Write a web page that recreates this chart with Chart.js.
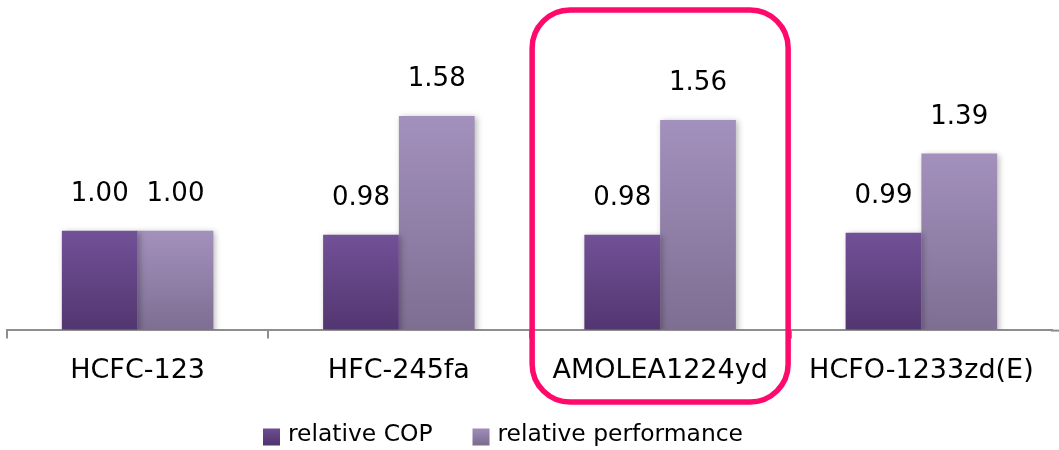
<!DOCTYPE html>
<html>
<head>
<meta charset="utf-8">
<script src="https://cdn.jsdelivr.net/npm/chart.js@4/dist/chart.umd.min.js"></script>
<style>
  html, body { margin: 0; padding: 0; background: #fff; }
  #wrap { width: 1059px; height: 450px; position: relative; }
</style>
</head>
<body>
<div id="wrap"><canvas id="c" width="1059" height="450"></canvas></div>
<script>
const categories = ["HCFC-123", "HFC-245fa", "AMOLEA1224yd", "HCFO-1233zd(E)"];
const relativeCOP = [1.00, 0.98, 0.98, 0.99];
const relativePerformance = [1.00, 1.58, 1.56, 1.39];
const seriesNames = ["relative COP", "relative performance"];
const highlightIndex = 2;

const FONT = "'DejaVu Sans', Verdana, sans-serif";
const AXIS_GREY = '#8e8e8e';

function barGradient(top, bottom) {
  return function (ctx) {
    const chart = ctx.chart;
    const ys = chart.scales && chart.scales.y;
    if (!chart.chartArea || !ys || ctx.raw === undefined) return bottom;
    const y0 = ys.getPixelForValue(ctx.raw);
    const y1 = ys.getPixelForValue(ys.min);
    if (!isFinite(y0) || !isFinite(y1) || y0 === y1) return bottom;
    const g = chart.ctx.createLinearGradient(0, y0, 0, y1);
    g.addColorStop(0, top);
    g.addColorStop(1, bottom);
    return g;
  };
}

const seriesTop = ['#725197', '#a391bd'];
const seriesBottom = ['#523670', '#7e6e92'];

const shadowPlugin = {
  id: 'shadow',
  beforeDatasetsDraw(chart) {
    const c = chart.ctx;
    c.save();
    c.shadowColor = 'rgba(0,0,0,0.28)';
    c.shadowBlur = 6;
    c.shadowOffsetX = 2;
    c.shadowOffsetY = 1;
  },
  afterDatasetsDraw(chart) {
    chart.ctx.restore();
  }
};

const labelPlugin = {
  id: 'valueLabels',
  afterDatasetsDraw(chart) {
    const c = chart.ctx;
    c.save();
    c.font = "26px " + FONT;
    c.fillStyle = '#000';
    c.textAlign = 'center';
    c.textBaseline = 'alphabetic';
    chart.data.datasets.forEach((ds, di) => {
      const meta = chart.getDatasetMeta(di);
      meta.data.forEach((el, i) => {
        c.fillText(ds.data[i].toFixed(2), el.x, el.y - 30);
      });
    });
    c.restore();
  }
};

const decorPlugin = {
  id: 'decor',
  afterDraw(chart) {
    const c = chart.ctx;
    const area = chart.chartArea;
    // axis line continues to the right edge
    c.save();
    c.strokeStyle = AXIS_GREY;
    c.lineWidth = 2;
    c.beginPath();
    c.moveTo(area.right - 1, area.bottom + 1);
    c.lineTo(chart.width, area.bottom + 1);
    c.stroke();
    c.restore();

    // legend
    c.save();
    c.font = "23.4px " + FONT;
    c.textBaseline = 'middle';
    c.textAlign = 'left';
    let x = 263;
    const yMid = 435;
    const box = 17;
    chart.data.datasets.forEach((ds, i) => {
      const g = c.createLinearGradient(0, yMid - box / 2, 0, yMid + box / 2);
      g.addColorStop(0, seriesTop[i]);
      g.addColorStop(1, seriesBottom[i]);
      c.fillStyle = g;
      c.fillRect(x, yMid - box / 2 + 2, box, box);
      c.fillStyle = '#000';
      const tx = x + box + 8;
      c.fillText(ds.label, tx, yMid);
      x = tx + c.measureText(ds.label).width + 40;
    });
    c.restore();

    // highlight frame around the selected category
    const xs = chart.scales.x;
    const cx = xs.getPixelForValue(highlightIndex);
    const half = 128;
    c.save();
    c.strokeStyle = '#ff0a6c';
    c.lineWidth = 5.5;
    c.beginPath();
    c.roundRect(cx - half, 10, half * 2, 392, 38);
    c.stroke();
    c.restore();
  }
};

new Chart(document.getElementById('c'), {
  type: 'bar',
  data: {
    labels: categories,
    datasets: [
      {
        label: seriesNames[0],
        data: relativeCOP,
        backgroundColor: barGradient(seriesTop[0], seriesBottom[0]),
        borderWidth: 0,
        categoryPercentage: 0.58,
        barPercentage: 1.0
      },
      {
        label: seriesNames[1],
        data: relativePerformance,
        backgroundColor: barGradient(seriesTop[1], seriesBottom[1]),
        borderWidth: 0,
        categoryPercentage: 0.58,
        barPercentage: 1.0
      }
    ]
  },
  options: {
    responsive: false,
    animation: false,
    devicePixelRatio: 1,
    layout: { padding: { top: 33, left: 7, right: 7, bottom: 47 } },
    scales: {
      y: {
        display: false,
        min: 0.5,
        max: 2.0
      },
      x: {
        offset: true,
        grid: {
          offset: true,
          drawOnChartArea: false,
          drawTicks: true,
          tickLength: 9,
          lineWidth: 2,
          color: (ctx) => (ctx.type === 'tick' ? AXIS_GREY : 'rgba(0,0,0,0)')
        },
        border: { display: true, color: AXIS_GREY, width: 2 },
        ticks: {
          color: '#000',
          font: { family: FONT, size: 27 },
          padding: 16,
          maxRotation: 0,
          autoSkip: false
        }
      }
    },
    plugins: {
      legend: { display: false },
      tooltip: { enabled: false }
    }
  },
  plugins: [shadowPlugin, labelPlugin, decorPlugin]
});
</script>
</body>
</html>
